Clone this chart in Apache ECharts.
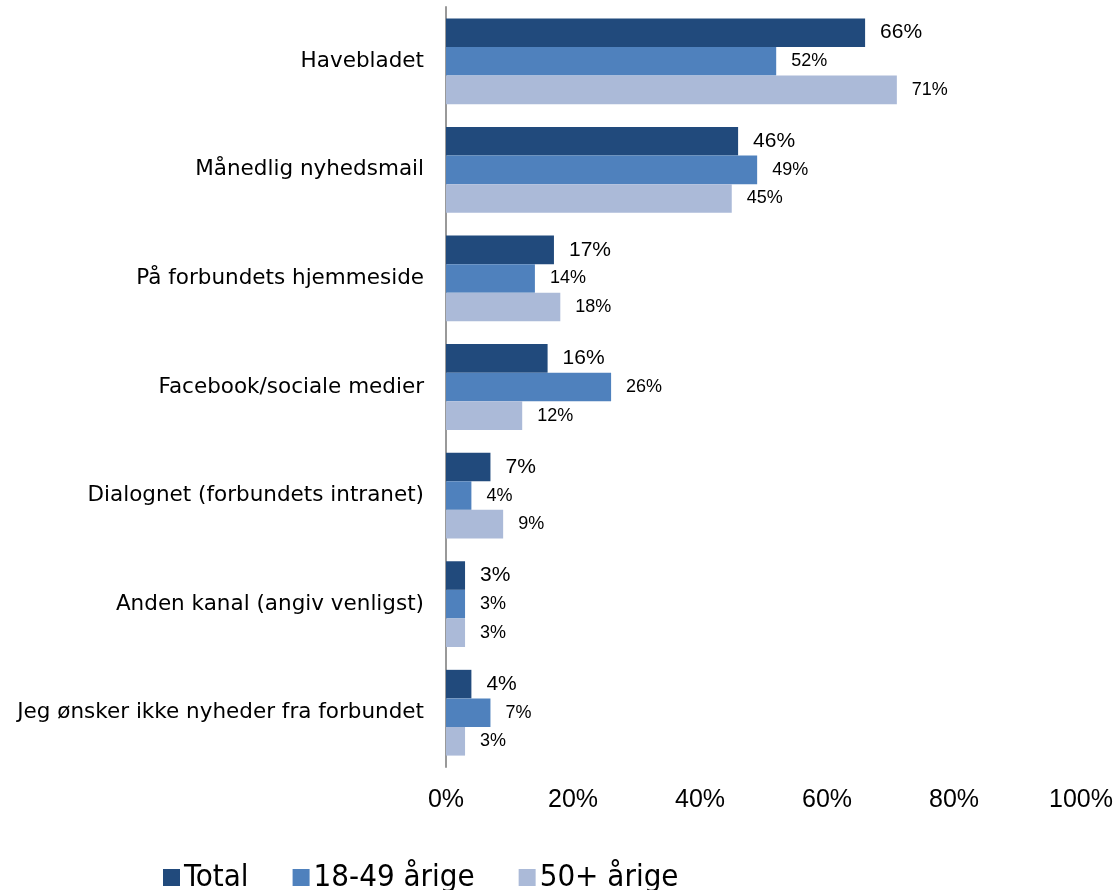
<!DOCTYPE html>
<html>
<head>
<meta charset="utf-8">
<script src="https://cdn.jsdelivr.net/npm/echarts@6/dist/echarts.min.js"></script>
<style>
  html, body { margin: 0; padding: 0; background: #fff; }
  #chart { width: 1117px; height: 890px; }
</style>
</head>
<body>
<div id="chart"></div>
<script>
const categories = [
  'Havebladet',
  'Månedlig nyhedsmail',
  'På forbundets hjemmeside',
  'Facebook/sociale medier',
  'Dialognet (forbundets intranet)',
  'Anden kanal (angiv venligst)',
  'Jeg ønsker ikke nyheder fra forbundet'
];
const seriesNames = ['Total', '18-49 årige', '50+ årige'];
const totalValues = [66, 46, 17, 16, 7, 3, 4];
const youngValues = [52, 49, 14, 26, 4, 3, 7];
const olderValues = [71, 45, 18, 12, 9, 3, 3];
const xTicks = [0, 20, 40, 60, 80, 100];

const colors = ['#214a7c', '#4f81bd', '#abbad8'];
const narrowFont = '"Liberation Sans Narrow", "Liberation Sans", sans-serif';

const chart = echarts.init(document.getElementById('chart'));

const makeSeries = (name, values, i, labelSize) => ({
  name,
  type: 'bar',
  data: values,
  barGap: '0%',
  barCategoryGap: '21%',
  itemStyle: { color: colors[i] },
  label: {
    show: true,
    position: 'right',
    distance: 15,
    formatter: '{c}%',
    color: '#000',
    fontFamily: narrowFont,
    fontSize: labelSize
  },
  emphasis: { disabled: true }
});

chart.setOption({
  animation: false,
  backgroundColor: '#fff',
  grid: { left: 446, right: 36, top: 7, height: 760 },
  legend: {
    left: 158,
    top: 857,
    itemWidth: 17,
    itemHeight: 17,
    itemGap: 44,
    icon: 'rect',
    data: seriesNames,
    textStyle: {
      fontFamily: '"DejaVu Sans Condensed", "DejaVu Sans", sans-serif',
      fontSize: 31,
      color: '#000',
      padding: [0, 0, 0, -1]
    }
  },
  xAxis: {
    type: 'value',
    min: xTicks[0],
    max: xTicks[xTicks.length - 1],
    interval: 20,
    axisLine: { show: false },
    axisTick: { show: false },
    splitLine: { show: false },
    axisLabel: {
      formatter: '{value}%',
      color: '#000',
      fontFamily: narrowFont,
      fontSize: 25,
      margin: 21
    }
  },
  yAxis: {
    type: 'category',
    inverse: true,
    data: categories,
    axisLine: { show: true, lineStyle: { color: '#999', width: 2 } },
    axisTick: { show: false },
    axisLabel: {
      color: '#000',
      fontFamily: '"DejaVu Sans", sans-serif',
      fontSize: 21.5,
      margin: 22
    }
  },
  series: [
    makeSeries(seriesNames[0], totalValues, 0, 21),
    makeSeries(seriesNames[1], youngValues, 1, 18),
    makeSeries(seriesNames[2], olderValues, 2, 18)
  ]
});
</script>
</body>
</html>
